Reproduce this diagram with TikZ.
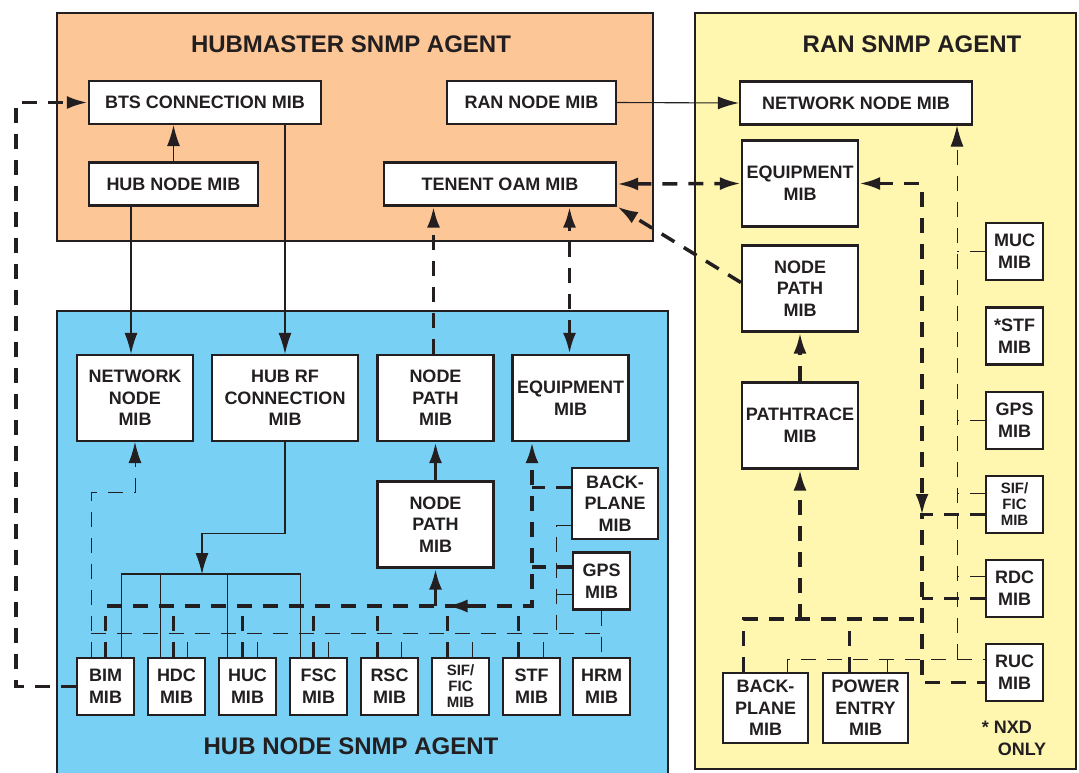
\documentclass[tikz,border=0pt]{standalone}
\usepackage{fontspec}
\setmainfont{Liberation Sans}
\usetikzlibrary{arrows.meta,positioning,calc}
\definecolor{agentorange}{HTML}{FCC697}
\definecolor{agentblue}{HTML}{79D0F5}
\definecolor{agentyellow}{HTML}{FFF6B0}
\definecolor{ink}{HTML}{231F20}

\begin{document}
\begin{tikzpicture}[x=1pt,y=-1pt,
  agent/.style={draw=ink,line width=2.4pt},
  agenttitle/.style={font=\fontsize{24}{28}\selectfont\bfseries,text=ink},
  mib/.style={rectangle,draw=ink,line width=2.2pt,fill=white,text=ink,
              align=center,inner sep=0pt,
              font=\fontsize{18}{21.7}\selectfont\bfseries},
  mibwide/.style={mib,minimum width=232pt,minimum height=43pt},
  mibmid/.style={mib,minimum width=169pt,minimum height=43pt},
  mibbig/.style={mib,minimum width=116pt,minimum height=86pt},
  mibsq/.style={mib,minimum width=57pt,minimum height=57pt},
  mibtall/.style={mib,minimum width=85pt,minimum height=70pt},
  mibsmallfont/.style={font=\fontsize{15}{16}\selectfont\bfseries},
  link/.style={draw=ink,line width=1.1pt},
  thicksolid/.style={draw=ink,line width=3.5pt},
  thindash/.style={draw=ink,line width=1pt,dash pattern=on 15pt off 11pt},
  thickdash/.style={draw=ink,line width=3.5pt,dash pattern=on 15pt off 11pt},
  arr/.style={-{Latex[length=21pt,width=13pt]}},
  darr/.style={{Latex[length=21pt,width=13pt]}-{Latex[length=21pt,width=13pt]}}
]
  \useasboundingbox (0,0) rectangle (1079,772);

  % ---- Agent frames ------------------------------------------
  \draw[agent,fill=agentorange] (57,13) rectangle (653,241);
  \draw[agent,fill=agentyellow] (695,13) rectangle (1076,769);
  \draw[agent,fill=agentblue] (57,311) rectangle (668,790);

  \node[agenttitle] (hmtitle) at (351,44) {HUBMASTER SNMP AGENT};
  \node[agenttitle] (rantitle) at (912,44) {RAN SNMP AGENT};
  \node[agenttitle] (hntitle) at (351,746) {HUB NODE SNMP AGENT};

  % ---- Hubmaster SNMP agent ----------------------------------
  \node[mibwide] (BTS) at (205,102.5) {BTS CONNECTION MIB};
  \node[mibmid] (RanNode) at (531.5,102.5) {RAN NODE MIB};
  \node[mibmid] (HubNode) at (173.5,184) {HUB NODE MIB};
  \node[mibwide] (Tenent) at (500,184) {TENENT OAM MIB};

  % ---- RAN SNMP agent ----------------------------------------
  \node[mibwide] (NetNodeR) at (856,103) {NETWORK NODE MIB};
  \node[mibbig] (EquipR) at (800,183.5) {EQUIPMENT\\MIB};
  \node[mibbig] (NodePathR) at (800,288.5) {NODE\\PATH\\MIB};
  \node[mibbig] (PathTr) at (800,425.5) {PATHTRACE\\MIB};
  \node[mibsq] (MUCr) at (1014.5,251.5) {MUC\\MIB};
  \node[mibsq] (STFr) at (1014.5,336) {*STF\\MIB};
  \node[mibsq] (GPSr) at (1014.5,420.5) {GPS\\MIB};
  \node[mibsq,mibsmallfont] (SIFr) at (1014.5,504.5) {SIF/\\FIC\\MIB};
  \node[mibsq] (RDCr) at (1014.5,588.5) {RDC\\MIB};
  \node[mibsq] (RUCr) at (1014.5,672.5) {RUC\\MIB};
  \node[mibtall] (BackR) at (765.5,708) {BACK-\\PLANE\\MIB};
  \node[mibtall] (PowerR) at (865.5,708) {POWER\\ENTRY\\MIB};
  \node[text=ink,font=\fontsize{18}{22}\selectfont\bfseries,align=left]
    (nxd) at (1014,738) {* NXD\\\hspace{16pt}ONLY};

  % ---- Hub node SNMP agent -----------------------------------
  \node[mibbig] (NetNodeH) at (135,398) {NETWORK\\NODE\\MIB};
  \node[mibbig,minimum width=146pt] (HubRF) at (285,398) {HUB RF\\CONNECTION\\MIB};
  \node[mibbig] (NodePathA) at (435.5,398) {NODE\\PATH\\MIB};
  \node[mibbig] (EquipH) at (570.5,398) {EQUIPMENT\\MIB};
  \node[mibbig] (NodePathB) at (435.5,524.5) {NODE\\PATH\\MIB};
  \node[mibtall,minimum width=86pt,minimum height=71pt] (BackH) at (615,503.5) {BACK-\\PLANE\\MIB};
  \node[mibsq] (GPSh) at (601.5,581) {GPS\\MIB};

  \node[mibsq] (BIM) at (105.5,686.5) {BIM\\MIB};
  \node[mibsq] (HDC) at (176.5,686.5) {HDC\\MIB};
  \node[mibsq] (HUC) at (247.5,686.5) {HUC\\MIB};
  \node[mibsq] (FSC) at (318.5,686.5) {FSC\\MIB};
  \node[mibsq] (RSC) at (389.5,686.5) {RSC\\MIB};
  \node[mibsq,mibsmallfont] (SIFh) at (460.5,686.5) {SIF/\\FIC\\MIB};
  \node[mibsq] (STFh) at (531.5,686.5) {STF\\MIB};
  \node[mibsq] (HRM) at (601.5,686.5) {HRM\\MIB};

  % ---- Bus points --------------------------------------------
  \coordinate (kbR) at (532,606);
  \coordinate (sbus) at (202,574);
  \coordinate (tbusL) at (91,633);
  \coordinate (tv) at (556,633);
  \coordinate (rkT) at (922,515);
  \coordinate (rkM) at (922,619);
  \coordinate (rtB) at (957,659);

  % ---- Solid links -------------------------------------------
  \draw[link,arr] (HubNode.north) -- (HubNode.north |- BTS.south);
  \draw[link,arr] ([xshift=-4]NetNodeH.north |- HubNode.south) -- ([xshift=-4]NetNodeH.north);
  \draw[link,arr] (HubRF.north |- BTS.south) -- (HubRF.north);
  \draw[link,arr] (RanNode.east) -- (NetNodeR.west);
  \draw[link,arr] (HubRF.south) -- ++(0,91) -| (sbus);
  \draw[link] ([xshift=16]BIM.north) |- (sbus) -| ([xshift=-18]FSC.north);
  \draw[link] ([xshift=-16]HDC.north) -- ([xshift=-16]HDC.north |- sbus);
  \draw[link] ([xshift=-20]HUC.north) -- ([xshift=-20]HUC.north |- sbus);

  % ---- Heavy dashed links ------------------------------------
  \draw[thickdash,arr] ([xshift=-2]NodePathA.north) -- ([xshift=-2]NodePathA.north |- Tenent.south);
  \draw[thickdash,darr] ([xshift=-1]EquipH.north) -- ([xshift=-1]EquipH.north |- Tenent.south);
  \draw[thickdash,darr] (Tenent.east) -- (EquipR.west);
  \draw[thickdash,arr] ([yshift=6]NodePathR.west) -- (Tenent.south east);
  \draw[thickdash,arr] (BIM.west) -- ++(-60,0) |- (BTS.west);

  \draw[thickdash,arr] (BIM.north) |- (kbR) -- (kbR |- EquipH.south);
  \draw[thickdash] ([yshift=16]BackH.west) -- ([yshift=16]BackH.west -| kbR);
  \draw[thickdash] ([yshift=14]GPSh.west) -- ([yshift=14]GPSh.west -| kbR);
  \foreach \b/\s in {HDC/-3,HUC/-5,FSC/-5,RSC/-12,SIFh/-13,STFh/-13}
    \draw[thickdash] ([xshift=\s]\b.north) -- ([xshift=\s]\b.north |- kbR);
  \draw[thicksolid,arr] (NodePathB.south |- kbR) -- (NodePathB.south);
  \draw[thicksolid,arr] ($(NodePathB.south |- kbR)+(36,0)$) -- ($(NodePathB.south |- kbR)+(11,0)$);
  \draw[thicksolid,arr] (NodePathB.north) -- (NodePathA.south);

  \draw[thickdash,darr] (EquipR.east) -| (rkT);
  \draw[thickdash] ([yshift=-10]SIFr.west) -| ([yshift=-10]RUCr.west -| rkT) -- ([yshift=-10]RUCr.west);
  \draw[thickdash] ([yshift=-10]RDCr.west) -- ([yshift=-10]RDCr.west -| rkT);
  \draw[thickdash] ([xshift=-22]BackR.north) |- (rkM);
  \draw[thickdash] ([xshift=-16]PowerR.north) -- ([xshift=-16]PowerR.north |- rkM);
  \draw[thickdash,arr] (PathTr.south |- rkM) -- (PathTr.south);
  \draw[thickdash,arr] (PathTr.north) -- (NodePathR.south);

  % ---- Light dashed links ------------------------------------
  \draw[thindash,arr] (BIM.north -| tbusL) |- ($(NetNodeH.south)+(0,50)$) -- (NetNodeH.south);
  \draw[thindash] (tbusL) -- (tv) -- (GPSh.south |- tv);
  \draw[thindash] ([yshift=-22]BackH.west) -| (tv);
  \draw[thindash] ([yshift=-13]GPSh.west) -- ([yshift=-13]GPSh.west -| tv);
  \draw[thindash] (GPSh.south) -- (HRM.north);
  \foreach \b/\s in {HDC/11,HUC/10,FSC/10,RSC/12,SIFh/12,STFh/12}
    \draw[thindash] ([xshift=\s]\b.north) -- ([xshift=\s]\b.north |- tv);

  \draw[thindash] ([xshift=22]BackR.north) |- ([yshift=13]RUCr.west);
  \draw[thindash] ([xshift=22]PowerR.north) -- ([xshift=22]PowerR.north |- rtB);
  \draw[thindash,arr] (rtB) -- (rtB |- NetNodeR.south);
  \foreach \b/\s in {MUCr/0,GPSr/0,SIFr/11,RDCr/12}
    \draw[thindash] ([yshift=\s]\b.west) -- ([yshift=\s]\b.west -| rtB);

\end{tikzpicture}
\end{document}
